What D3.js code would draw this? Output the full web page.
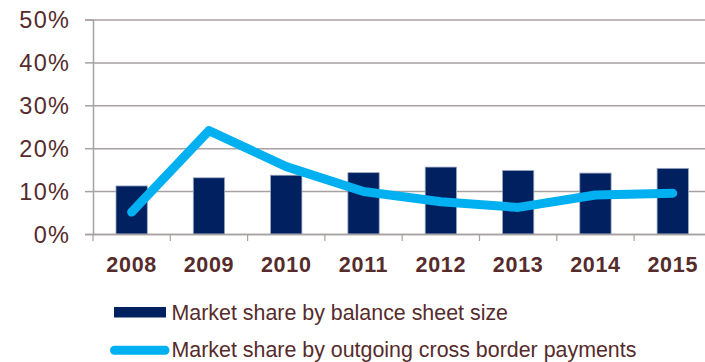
<!DOCTYPE html>
<html>
<head>
<meta charset="utf-8">
<script src="https://cdn.jsdelivr.net/npm/d3@7"></script>
<style>
  html, body { margin: 0; padding: 0; background: #ffffff; }
  svg { display: block; }
  text { font-family: "Liberation Sans", Arial, sans-serif; fill: #562B2B; }
</style>
</head>
<body>
<svg id="chart" width="705" height="362"></svg>
<script>
const years = ["2008", "2009", "2010", "2011", "2012", "2013", "2014", "2015"];
const balanceSheetShare = [0.112, 0.131, 0.137, 0.143, 0.156, 0.148, 0.142, 0.153];
const crossBorderShare = [0.051, 0.241, 0.157, 0.099, 0.075, 0.062, 0.091, 0.095];
const yTicks = [0, 0.1, 0.2, 0.3, 0.4, 0.5];
const seriesNames = ["Market share by balance sheet size", "Market share by outgoing cross border payments"];

const plotL = 93, plotR = 711.4, plotT = 19.5, plotB = 234;
const svg = d3.select("#chart");

const x = d3.scaleBand().domain(years).range([plotL, plotR]).paddingInner(0.595).paddingOuter(0.2975);
const xc = d3.scaleBand().domain(years).range([plotL, plotR]);
const y = d3.scaleLinear().domain([0, 0.5]).range([plotB, plotT]);

const gridColor = "#A7A1A1";

// gridlines + y axis ticks
const yAxis = d3.axisLeft(y).tickValues(yTicks).tickSize(8).tickFormat(d3.format(".0%"));
const gy = svg.append("g").attr("transform", `translate(${plotL},0)`).call(yAxis);
gy.select(".domain").attr("stroke", gridColor).attr("stroke-width", 1.5);
gy.selectAll(".tick line").attr("stroke", gridColor).attr("stroke-width", 1.5)
  .attr("x2", -8).clone().attr("x1", 0).attr("x2", plotR - plotL);
gy.selectAll(".tick text").attr("x", -23).attr("dy", "0.35em")
  .style("font-size", "23.5px").style("letter-spacing", "1.2px")
  .attr("font-family", null).attr("fill", "#562B2B");

// bars
svg.append("g").selectAll("rect").data(years).join("rect")
  .attr("x", d => x(d))
  .attr("width", x.bandwidth())
  .attr("y", (d, i) => y(balanceSheetShare[i]))
  .attr("height", (d, i) => plotB - y(balanceSheetShare[i]))
  .attr("fill", "#002060")
  .attr("stroke", "#9AA6BE")
  .attr("stroke-width", 0.8);

// x axis
const xAxis = d3.axisBottom(xc).tickSize(7).tickFormat(d => d);
const gx = svg.append("g").attr("transform", `translate(0,${plotB})`).call(xAxis);
gx.select(".domain").attr("stroke", gridColor).attr("stroke-width", 1.5).attr("d", `M${plotL},0.5H${plotR}`);
gx.selectAll(".tick line").attr("stroke", gridColor).attr("stroke-width", 1.2)
  .attr("transform", `translate(${-xc.bandwidth() / 2},0)`);
gx.selectAll(".tick text").attr("y", 0).attr("dy", "37.5px")
  .style("font-size", "21.5px").style("font-weight", "bold").style("letter-spacing", "0.7px")
  .attr("font-family", null).attr("fill", "#562B2B");
gx.append("line").attr("x1", plotR).attr("x2", plotR).attr("y1", 0).attr("y2", 7)
  .attr("stroke", gridColor).attr("stroke-width", 1.2);

// line
const line = d3.line()
  .x((d, i) => xc(years[i]) + xc.bandwidth() / 2)
  .y(d => y(d));
svg.append("path").datum(crossBorderShare)
  .attr("d", line)
  .attr("fill", "none")
  .attr("stroke", "#00B0F0")
  .attr("stroke-width", 9)
  .attr("stroke-linejoin", "round")
  .attr("stroke-linecap", "round");

// legend
const lg = svg.append("g");
lg.append("rect").attr("x", 114).attr("y", 307).attr("width", 52).attr("height", 10.5).attr("fill", "#002060");
lg.append("text").attr("x", 171.5).attr("y", 319.5).style("font-size", "21.4px").text(seriesNames[0]);
lg.append("line").attr("x1", 114.5).attr("x2", 165).attr("y1", 350.3).attr("y2", 350.3)
  .attr("stroke", "#00B0F0").attr("stroke-width", 9).attr("stroke-linecap", "round");
lg.append("text").attr("x", 171.5).attr("y", 357.3).style("font-size", "21.4px").text(seriesNames[1]);
</script>
</body>
</html>
